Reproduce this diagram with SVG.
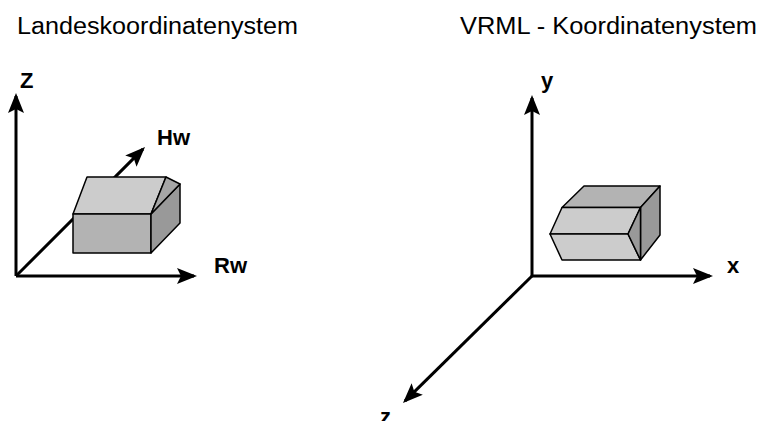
<svg xmlns="http://www.w3.org/2000/svg" width="761" height="421" viewBox="0 0 761 421">
  <defs>
    <marker id="arrow" viewBox="0 0 20 16" refX="17" refY="8" markerWidth="20" markerHeight="16" markerUnits="userSpaceOnUse" orient="auto">
      <path d="M0,0 L20,8 L0,16 L4,8 Z" fill="#000"/>
    </marker>
  </defs>
  <style>
    .title { font-family: "Liberation Sans", Arial, sans-serif; font-size: 23px; fill: #000; }
    .label { font-family: "Liberation Sans", Arial, sans-serif; font-size: 22px; font-weight: bold; fill: #000; }
    .axis { stroke: #000; stroke-width: 3; fill: none; marker-end: url(#arrow); }
    .face { stroke: #000; stroke-width: 1.5; stroke-linejoin: round; }
    .light { fill: #cccccc; }
    .mid { fill: #b3b3b3; }
    .dark { fill: #999999; }
    .roof { fill: #a6a6a6; }
  </style>
  <rect width="761" height="421" fill="#fff"/>

  <!-- Titles -->
  <text class="title" x="17" y="34" textLength="281" lengthAdjust="spacingAndGlyphs">Landeskoordinatenystem</text>
  <text class="title" x="460" y="34" textLength="297" lengthAdjust="spacingAndGlyphs">VRML - Koordinatenystem</text>

  <!-- Axes -->
  <g id="connectors">
    <line class="axis" x1="16" y1="276" x2="16" y2="96"/>
    <line class="axis" x1="16" y1="276" x2="194" y2="276"/>
    <line class="axis" x1="16" y1="276" x2="142.9" y2="149.1"/>
    <line class="axis" x1="532" y1="276" x2="532" y2="98"/>
    <line class="axis" x1="532" y1="276" x2="710" y2="276"/>
    <line class="axis" x1="532" y1="276" x2="405.1" y2="400.9"/>
  </g>

  <!-- Box in national grid system -->
  <g id="house">
    <polygon class="face light" points="73,214 87,177 166,177 151,214"/>
    <polygon class="face mid" points="73,214 151,214 151,253 73,253"/>
    <polygon class="face dark" points="151,214 180,184 180,223 151,253"/>
    <polygon class="face roof" points="151,214 166,177 180,184"/>
  </g>

  <!-- Box in VRML system -->
  <g id="vrml-box">
    <polygon class="face mid" points="562,207.5 584,186 660,186 640.5,207.5"/>
    <polygon class="face dark" points="640.5,207.5 660,186 660,235 640.5,260"/>
    <polygon class="face light" points="562,207.5 640.5,207.5 628,234 550,234"/>
    <polygon class="face light" points="550,234 628,234 640.5,260 562,260"/>
    <polygon class="face dark" points="640.5,207.5 628,234 640.5,260"/>
  </g>

  <!-- Axis labels -->
  <g id="labels">
    <text class="label" x="20" y="88">Z</text>
    <text class="label" x="157" y="145">Hw</text>
    <text class="label" x="214" y="273">Rw</text>
    <text class="label" x="541" y="88">y</text>
    <text class="label" x="727" y="273">x</text>
    <text class="label" x="380" y="424">z</text>
  </g>
</svg>
